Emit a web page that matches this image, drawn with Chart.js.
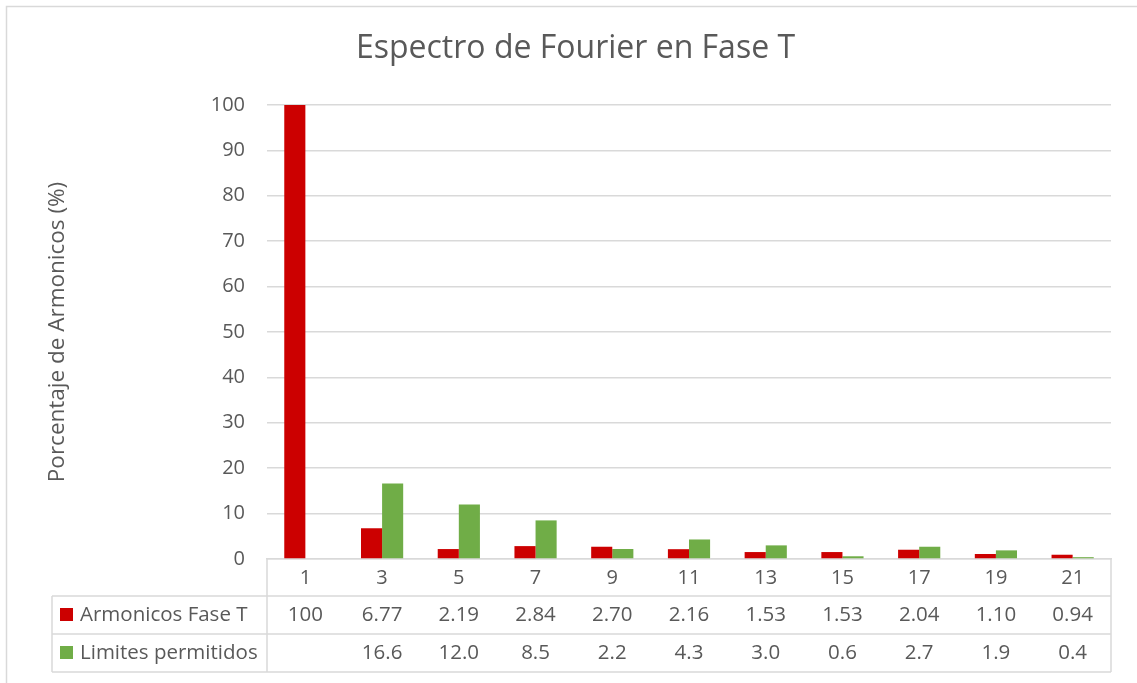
<!DOCTYPE html>
<html>
<head>
<meta charset="utf-8">
<script src="https://cdn.jsdelivr.net/npm/chart.js@4.4.1/dist/chart.umd.min.js"></script>
<style>
  body { margin: 0; background: #fff; }
</style>
</head>
<body>
<canvas id="graficoFourier" width="1137" height="683"></canvas>
<script>
const armonicos = ["1", "3", "5", "7", "9", "11", "13", "15", "17", "19", "21"];
const faseT = [100, 6.77, 2.19, 2.84, 2.70, 2.16, 1.53, 1.53, 2.04, 1.10, 0.94];
const limites = [null, 16.6, 12.0, 8.5, 2.2, 4.3, 3.0, 0.6, 2.7, 1.9, 0.4];
const ticksY = [0, 10, 20, 30, 40, 50, 60, 70, 80, 90, 100];

const colorTexto = "#595959";
const colorLinea = "#d9d9d9";
const fuente = "'Open Sans', 'Noto Sans', sans-serif";

function formatoValor(v, decimales) {
  if (v === null || v === undefined) return "";
  if (Number.isInteger(v) && v >= 100) return String(v);
  return v.toFixed(decimales);
}

// marco gris del grafico (como en Excel)
const marco = {
  id: "marco",
  beforeDraw(chart) {
    const { ctx, width, height } = chart;
    ctx.save();
    ctx.fillStyle = "#fff";
    ctx.fillRect(0, 0, width, height);
    ctx.strokeStyle = colorLinea;
    ctx.lineWidth = 1.5;
    ctx.beginPath();
    ctx.moveTo(6.5, height);
    ctx.lineTo(6.5, 6.5);
    ctx.lineTo(width, 6.5);
    ctx.stroke();
    ctx.restore();
  }
};

// tabla de datos debajo del eje x
const tablaDatos = {
  id: "tablaDatos",
  afterDraw(chart) {
    const { ctx, chartArea, scales } = chart;
    const x = scales.x;
    const izq = 52;
    const filas = [chartArea.bottom, 596, 634, 672];
    const series = [
      { datos: faseT, dec: 2, ds: chart.data.datasets[0] },
      { datos: limites, dec: 1, ds: chart.data.datasets[1] }
    ];

    ctx.save();
    ctx.strokeStyle = colorLinea;
    ctx.lineWidth = 1.5;
    ctx.beginPath();
    for (let i = 1; i < filas.length; i++) {
      ctx.moveTo(izq, filas[i]);
      ctx.lineTo(chartArea.right, filas[i]);
    }
    ctx.moveTo(izq, filas[1]);
    ctx.lineTo(izq, filas[3]);
    ctx.moveTo(chartArea.left, filas[0]);
    ctx.lineTo(chartArea.left, filas[3]);
    ctx.moveTo(chartArea.right, filas[0]);
    ctx.lineTo(chartArea.right, filas[3]);
    ctx.stroke();

    ctx.font = "20.5px " + fuente;
    ctx.fillStyle = colorTexto;
    ctx.textBaseline = "middle";

    series.forEach((s, f) => {
      const yc = (filas[f + 1] + filas[f + 2]) / 2;
      // clave de leyenda
      ctx.fillStyle = s.ds.backgroundColor;
      ctx.fillRect(60, yc - 7, 13, 13);
      ctx.fillStyle = colorTexto;
      ctx.textAlign = "left";
      ctx.fillText(s.ds.label, 80, yc);
      ctx.textAlign = "center";
      s.datos.forEach((v, i) => {
        ctx.fillText(formatoValor(v, s.dec), x.getPixelForValue(i), yc);
      });
    });
    ctx.restore();
  }
};

new Chart(document.getElementById("graficoFourier"), {
  type: "bar",
  data: {
    labels: armonicos,
    datasets: [
      {
        label: "Armonicos Fase T",
        data: faseT,
        backgroundColor: "#cc0000"
      },
      {
        label: "Limites permitidos",
        data: limites,
        backgroundColor: "#70ad47"
      }
    ]
  },
  options: {
    responsive: false,
    animation: false,
    devicePixelRatio: 1,
    categoryPercentage: 0.55,
    barPercentage: 1,
    layout: {
      padding: { left: 40, right: 26, top: 0, bottom: 0 }
    },
    plugins: {
      legend: { display: false },
      tooltip: { enabled: false },
      title: {
        display: true,
        text: "Espectro de Fourier en Fase T",
        color: colorTexto,
        font: { family: fuente, size: 32, weight: "normal" },
        padding: { top: 30, bottom: 36.5 }
      }
    },
    scales: {
      x: {
        grid: { display: false, drawTicks: false },
        border: { display: true, color: colorLinea, width: 1.5 },
        ticks: {
          color: colorTexto,
          font: { family: fuente, size: 20 },
          padding: 7,
          maxRotation: 0
        },
        afterFit(scale) {
          scale.height = 124;
        }
      },
      y: {
        min: 0,
        max: 100,
        afterBuildTicks(scale) {
          scale.ticks = ticksY.map((v) => ({ value: v }));
        },
        grid: { color: colorLinea, lineWidth: 1.5, drawTicks: false },
        border: { display: false },
        ticks: {
          color: colorTexto,
          font: { family: fuente, size: 20 },
          padding: 22
        },
        title: {
          display: true,
          text: "Porcentaje de Armonicos (%)",
          color: colorTexto,
          font: { family: fuente, size: 22.5 },
          padding: { top: 4.5 }
        },
        afterFit(scale) {
          scale.width = 227;
        }
      }
    }
  },
  plugins: [marco, tablaDatos]
});
</script>
</body>
</html>
